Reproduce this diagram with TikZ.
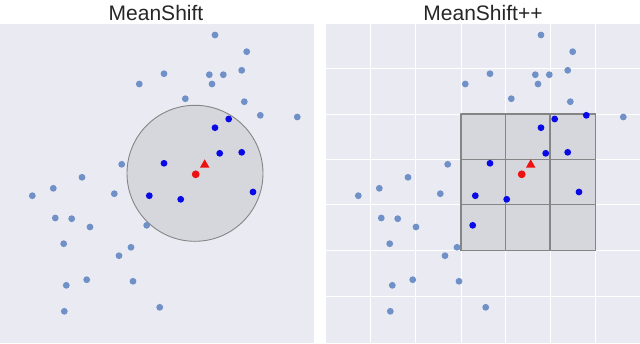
\documentclass[tikz,border=0pt]{standalone}
\usepackage{fontspec}
\setmainfont{Liberation Sans}
\usepackage{tikz}
\usetikzlibrary{backgrounds}
\definecolor{my_panel}{HTML}{EAEAF2}
\definecolor{my_window}{HTML}{D6D7DD}
\definecolor{my_edge}{HTML}{858585}
\definecolor{my_point}{HTML}{7090C8}
\definecolor{my_inside}{HTML}{0A0AE6}
\definecolor{my_mean}{HTML}{EE1111}
\definecolor{my_title}{HTML}{262626}

\begin{document}
\begin{tikzpicture}[
    x=1pt, y=-1pt,
    line cap=round,
    line join=round,
    title/.style={font=\fontsize{21}{24}\selectfont, text=my_title, anchor=base},
    far point/.style={fill=my_point},
    near point/.style={fill=my_inside}
]

% Page frame (image is 640 x 343 px)
\useasboundingbox (0,0) rectangle (640,343);

% Panel backgrounds
\fill[my_panel] (0,24) rectangle (314,343);
\fill[my_panel] (326,24) rectangle (640,343);

% Titles
\node[title] (title-left)  at (156,20) {MeanShift};
\node[title] (title-right) at (483,20) {MeanShift++};

% Grid of the right panel
\foreach \gx in {370.5,415.8,461,505.3,550,595.5} {
  \draw[white, line width=1pt] (\gx,24) -- (\gx,343);
}
\foreach \gy in {68.3,114,159.5,204.3,250.7,296} {
  \draw[white, line width=1pt] (326,\gy) -- (640,\gy);
}

% Circular window on the left
\draw[fill=my_window, draw=my_edge, line width=0.9pt]
    (195,173.3) circle (68);

% 3x3 block of cells on the right
\fill[my_window] (461,114) rectangle (595.5,250.7);
\foreach \gx in {461,505.3,550,595.5} {
  \draw[my_edge, line width=1.5pt, line cap=butt] (\gx,114) -- (\gx,250.7);
}
\foreach \gy in {114,159.5,204.3,250.7} {
  \draw[my_edge, line width=1.5pt, line cap=butt] (461,\gy) -- (595.5,\gy);
}
\draw[my_edge, line width=1.5pt] (461,114) rectangle (595.5,250.7);

% Points outside both windows
\foreach \px/\py in {215/35, 246.7/51.7, 164/73.7, 209.3/74.7, 223.3/74.7,
                     241.7/70.3, 139.3/84, 212/84, 185.3/98.7, 244.3/101.7,
                     297.3/117, 121.7/164.3, 82/177.3, 53.3/188.3,
                     32.3/195.7, 114.3/193.7, 55.3/218, 71.7/218.7, 90/227,
                     63.7/243.7, 131/247.3, 119/255.7, 86.7/279.7,
                     66.3/285.3, 133/281.3, 64.3/311.3, 159.7/307.3} {
  \fill[far point] (\px,\py) circle (3.4);
  \fill[far point] (\px+326,\py) circle (3.4);
}

% Points that fall in the circle but not in the cells, and back
\fill[far point] (260.3,115.3) circle (3.4);
\fill[near point] (260.3+326,115.3) circle (3.4);
\fill[far point] (146.7,225.3) circle (3.4);
\fill[near point] (146.7+326,225.3) circle (3.4);

% Points inside both windows
\foreach \px/\py in {228.7/119, 215/127.7, 219.7/153.3, 241.7/152.3,
                     164/163.3, 149.3/195.7, 180.7/199.3, 253/192} {
  \fill[near point] (\px,\py) circle (3.4);
  \fill[near point] (\px+326,\py) circle (3.4);
}

% Current estimate (dot) and shifted mean (triangle)
\foreach \dx in {0,326} {
  \fill[my_mean] (195.7+\dx,174.3) circle (3.9);
  \fill[my_mean] (204.7+\dx,159.3) -- (209.5+\dx,167.7) -- (199.9+\dx,167.7) -- cycle;
}

\end{tikzpicture}
\end{document}
